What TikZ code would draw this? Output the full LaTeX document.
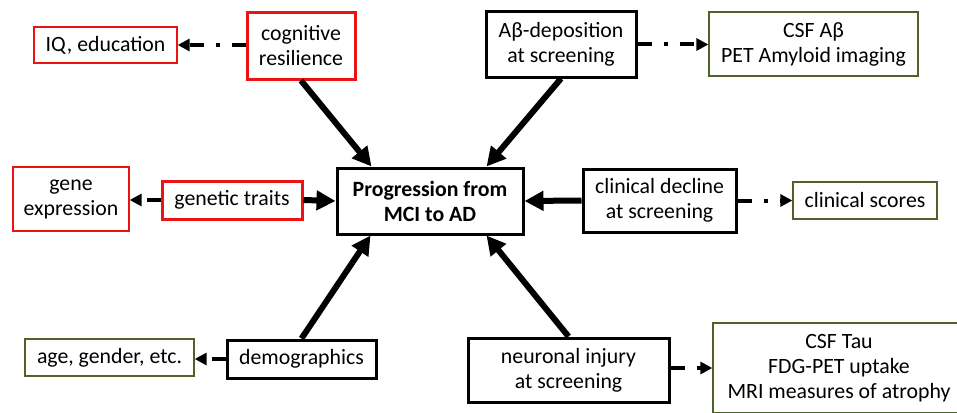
\documentclass[tikz,border=0pt]{standalone}
\usepackage{fontspec}
\setmainfont{Carlito}
\usetikzlibrary{arrows.meta,calc}
\definecolor{olive}{RGB}{79,98,40}
\definecolor{boxred}{RGB}{235,20,20}
\tikzset{
  basebox/.style={rectangle, align=center, inner sep=0pt, font=\fontsize{21.8}{25}\selectfont, fill=white},
  blackbox/.style={basebox, draw=black, line width=3pt},
  redbox/.style={basebox, draw=boxred, line width=3pt},
  thinred/.style={basebox, draw=boxred, line width=1.3pt},
  olivebox/.style={basebox, draw=olive, line width=1.3pt},
  mainarrow/.style={line width=6pt, -{Triangle[length=19pt,width=19pt]}},
  dasharrow/.style={line width=4pt, dash pattern=on 14pt off 12pt on 4pt off 12pt, -{Triangle[length=12pt,width=12pt]}},
}
\begin{document}
\begin{tikzpicture}[x=1pt,y=-1pt]
\clip (0,0) rectangle (957,412);
\fill[white] (0,0) rectangle (957,412);
% nodes
\node[thinred, minimum width=143, minimum height=36] (iq) at (105.5,45) {IQ, education};
\node[redbox, minimum width=108, minimum height=66] (cog) at (301,46) {cognitive\\resilience};
\node[blackbox, minimum width=150, minimum height=65] (ab) at (561,44.5) {Aβ-deposition\\at screening};
\node[olivebox, minimum width=209, minimum height=64] (csfab) at (813.5,44) {CSF Aβ\\PET Amyloid imaging};
\node[thinred, minimum width=116, minimum height=64] (gene) at (71,199) {gene\\expression};
\node[redbox, minimum width=140, minimum height=38] (genetic) at (232,200) {genetic traits};
\node[blackbox, minimum width=186, minimum height=66, font=\fontsize{21.8}{25}\selectfont\bfseries] (prog) at (430,201) {Progression from\\MCI to AD};
\node[blackbox, minimum width=153, minimum height=63] (clin) at (659.5,200.5) {clinical decline\\at screening};
\node[olivebox, minimum width=144, minimum height=37] (scores) at (865,200.5) {clinical scores};
\node[blackbox, minimum width=149, minimum height=38] (demo) at (301.5,359) {demographics};
\node[olivebox, minimum width=169, minimum height=37] (age) at (109.5,357.5) {age, gender, etc.};
\node[blackbox, minimum width=201, minimum height=64] (neur) at (568.5,370) {neuronal injury\\at screening};
\node[olivebox, minimum width=252, minimum height=90] (tau) at (839,368) {CSF Tau\\FDG-PET uptake\\MRI measures of atrophy};
% main arrows
\draw[mainarrow] (cog.south) -- ($(prog.north west)+(36,0)$);
\draw[mainarrow] (ab.south) -- ($(prog.north east)+(-38,0)$);
\draw[mainarrow] (genetic.east) -- (prog.west);
\draw[mainarrow] (clin.west) -- (prog.east);
\draw[mainarrow] (demo.north) -- ($(prog.south west)+(35,0)$);
\draw[mainarrow] (neur.north) -- ($(prog.south east)+(-38,0)$);
% dashed arrows
\draw[dasharrow] (cog.west |- iq.east) -- (iq.east);
\draw[dasharrow] (ab.east) -- (ab.east -| csfab.west);
\draw[dasharrow] (genetic.west) -- (genetic.west -| gene.east);
\draw[dasharrow] (clin.east) -- (clin.east -| scores.west);
\draw[dasharrow] (demo.west) -- (demo.west -| age.east);
\draw[dasharrow] ($(neur.east)+(0,-2)$) -- ($(neur.east -| tau.west)+(0,-2)$);
\end{tikzpicture}
\end{document}
